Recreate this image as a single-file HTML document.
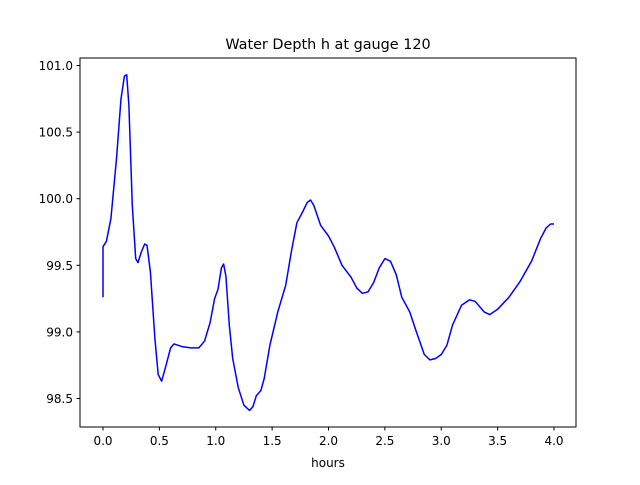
<!DOCTYPE html>
<html><head><meta charset="utf-8"><style>
body{margin:0;background:#fff;font-family:"Liberation Sans","DejaVu Sans",sans-serif}
svg text{font-family:"DejaVu Sans","Liberation Sans",sans-serif;fill:#000}
</style></head><body>
<svg id="chart" width="640" height="480" xmlns="http://www.w3.org/2000/svg">
<rect width="640" height="480" fill="#fff"/>
<text x="328" y="49" font-size="14.4" text-anchor="middle">Water Depth h at gauge 120</text>
<g id="ticks"></g>
<polyline id="series" fill="none" stroke="#0000ff" stroke-width="1.5" stroke-linejoin="round"/>
<rect x="80" y="58" width="496" height="369" fill="none" stroke="#000" stroke-width="1"/>
<text x="328" y="467" font-size="12" text-anchor="middle">hours</text>
</svg>
<script>
const times=[0,0,0.03,0.07,0.12,0.16,0.19,0.21,0.23,0.26,0.29,0.31,0.34,0.37,0.39,0.42,0.46,0.49,0.52,0.55,0.60,0.63,0.70,0.78,0.85,0.90,0.95,0.99,1.02,1.05,1.07,1.09,1.12,1.15,1.2,1.25,1.30,1.33,1.36,1.40,1.43,1.48,1.55,1.62,1.67,1.72,1.77,1.81,1.84,1.87,1.93,2.0,2.05,2.12,2.2,2.25,2.3,2.35,2.4,2.45,2.50,2.55,2.6,2.65,2.72,2.78,2.85,2.9,2.95,3.0,3.05,3.1,3.18,3.25,3.3,3.38,3.43,3.5,3.6,3.7,3.8,3.88,3.93,3.97,4.0];
const depths=[99.26,99.64,99.68,99.85,100.3,100.75,100.92,100.93,100.7,99.95,99.55,99.52,99.6,99.66,99.65,99.45,98.95,98.68,98.63,98.72,98.88,98.91,98.89,98.88,98.88,98.93,99.07,99.25,99.32,99.48,99.51,99.42,99.05,98.8,98.58,98.45,98.41,98.44,98.52,98.56,98.65,98.9,99.15,99.35,99.6,99.82,99.9,99.97,99.99,99.95,99.8,99.72,99.64,99.5,99.41,99.33,99.29,99.3,99.37,99.48,99.55,99.53,99.43,99.26,99.15,99.0,98.83,98.79,98.8,98.83,98.9,99.05,99.2,99.24,99.23,99.15,99.13,99.17,99.26,99.38,99.53,99.7,99.78,99.81,99.81];
const xTicks=[0,0.5,1,1.5,2,2.5,3,3.5,4];
const xTickLabels=["0.0","0.5","1.0","1.5","2.0","2.5","3.0","3.5","4.0"];
const yTicks=[98.5,99,99.5,100,100.5,101];
const yTickLabels=["98.5","99.0","99.5","100.0","100.5","101.0"];
const X=t=>103+t*112.75;
const Y=v=>65.5+(101-v)*133.2;
const ns="http://www.w3.org/2000/svg";
const g=document.getElementById('ticks');
function mk(tag,attrs){const e=document.createElementNS(ns,tag);for(const k in attrs)e.setAttribute(k,attrs[k]);return e;}
xTicks.forEach((t,i)=>{
  const l=mk('line',{x1:X(t),x2:X(t),y1:427,y2:430.5,stroke:'#000'});
  
  
  g.appendChild(l);
  const tx=mk('text',{x:X(t),y:445,'font-size':12,'text-anchor':'middle'});
  
  
  tx.textContent=xTickLabels[i];g.appendChild(tx);
});
yTicks.forEach((v,i)=>{
  const l=mk('line',{x1:76.5,x2:80,y1:Y(v),y2:Y(v),stroke:'#000'});
  
  
  g.appendChild(l);
  const tx=mk('text',{x:73,y:Y(v)+4.5,'font-size':12,'text-anchor':'end'});
  
  
  tx.textContent=yTickLabels[i];g.appendChild(tx);
});
document.getElementById('series').setAttribute('points',times.map((t,i)=>X(t).toFixed(1)+','+Y(depths[i]).toFixed(1)).join(' '));
</script>
</body></html>
